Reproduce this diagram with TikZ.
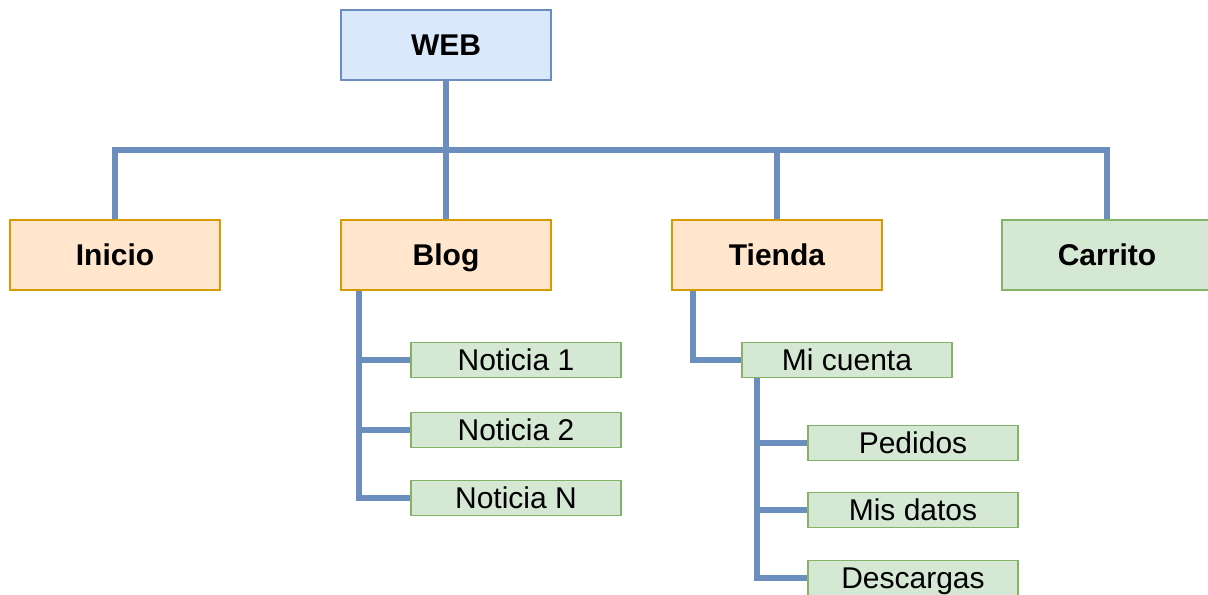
\documentclass[tikz,border=0pt]{standalone}
\usepackage{fontspec}
\setmainfont{Liberation Sans}
\definecolor{webfill}{HTML}{DAE8FC}
\definecolor{webline}{HTML}{6C8EBF}
\definecolor{pagefill}{HTML}{FFE6CC}
\definecolor{pageline}{HTML}{D79B00}
\definecolor{leaffill}{HTML}{D5E8D4}
\definecolor{leafline}{HTML}{82B366}
\tikzset{
  box/.style={draw, line width=1.1pt, minimum width=157.5pt, inner sep=0pt,
    text height=16.1pt, text depth=0pt, font=\fontsize{22.5}{27}\selectfont},
  bigbox/.style={box, minimum height=52.5pt, font=\fontsize{22.5}{27}\selectfont\bfseries},
  smallbox/.style={box, minimum height=26.25pt},
  web/.style={bigbox, fill=webfill, draw=webline},
  page/.style={bigbox, fill=pagefill, draw=pageline},
  leaf/.style={fill=leaffill, draw=leafline},
  link/.style={draw=webline, line width=4.3pt},
}
\begin{document}
\begin{tikzpicture}[x=0.75pt, y=-0.75pt]
    % \draw[help lines] (0,0) grid (1208,594);
    \useasboundingbox (0,0) rectangle (1208,594);
    \clip (0,0) rectangle (1208,594);

    \coordinate (bus) at (446,150);

    \node[web] (web) at (446,45) {WEB};
    \node[page] (inicio) at (115,255) {Inicio};
    \node[page] (blog) at (446,255) {Blog};
    \node[page] (tienda) at (777,255) {Tienda};
    \node[bigbox, leaf] (carrito) at (1107,255) {Carrito};

    \node[smallbox, leaf] (not1) at (516,360) {Noticia 1};
    \node[smallbox, leaf] (not2) at (516,430) {Noticia 2};
    \node[smallbox, leaf] (notn) at (516,498) {Noticia N};

    \node[smallbox, leaf] (cuenta) at (847,360) {Mi cuenta};
    \node[smallbox, leaf] (pedidos) at (913,443) {Pedidos};
    \node[smallbox, leaf] (datos) at (913,510) {Mis datos};
    \node[smallbox, leaf] (descargas) at (913,578) {Descargas};

    \draw[link] (web.south) -- (blog.north);
    \draw[link] (inicio.north) -- (inicio.north |- bus) -- (bus -| carrito.north) -- (carrito.north);
    \draw[link] (bus -| tienda.north) -- (tienda.north);

    \draw[link] ([xshift=14.25pt]blog.south west) |- (notn.west);
    \draw[link] ([xshift=14.25pt]blog.south west) |- (not1.west);
    \draw[link] ([xshift=14.25pt]blog.south west) |- (not2.west);

    \draw[link] ([xshift=16.5pt]tienda.south west) |- (cuenta.west);

    \draw[link] ([xshift=12pt]cuenta.south west) |- (descargas.west);
    \draw[link] ([xshift=12pt]cuenta.south west) |- (pedidos.west);
    \draw[link] ([xshift=12pt]cuenta.south west) |- (datos.west);
  \end{tikzpicture}
\end{document}
